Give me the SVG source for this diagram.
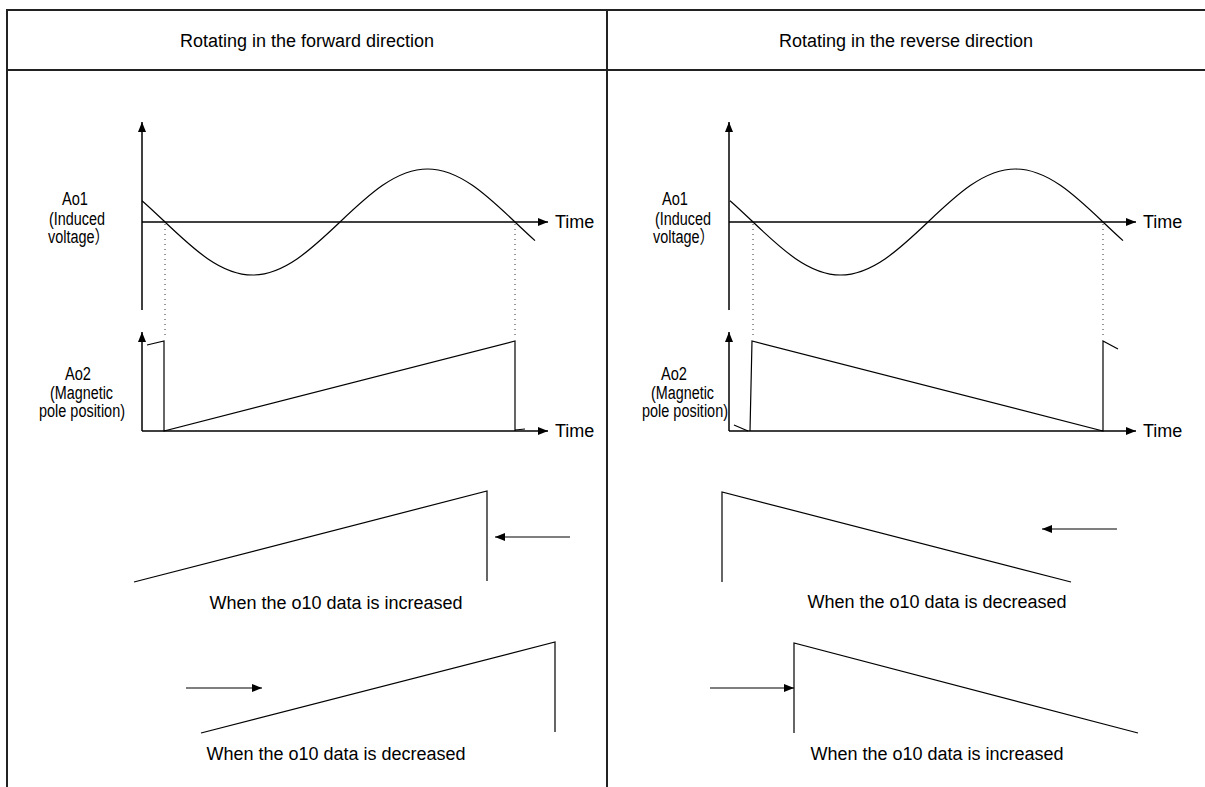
<svg xmlns="http://www.w3.org/2000/svg" width="1205" height="787" viewBox="0 0 1205 787">
<defs>
<marker id="ah" markerUnits="userSpaceOnUse" markerWidth="10" markerHeight="8" refX="10" refY="4" orient="auto">
<path d="M0,0 L10,4 L0,8 z" fill="#000"/>
</marker>
<style>
.frame{stroke:#222;stroke-width:2;fill:none}
.axis{stroke:#000;stroke-width:1.5;fill:none}
.wave{stroke:#000;stroke-width:1.2;fill:none}
.dot{stroke:#333;stroke-width:1;stroke-dasharray:1 4;fill:none}
.t{font-family:"Liberation Sans",Arial,"Noto Sans CJK JP",sans-serif;font-size:18px;fill:#000}
.m{text-anchor:middle}
</style>
</defs>
<rect width="1205" height="787" fill="#fff"/>
<g id="table">
<line class="frame" x1="7" y1="10" x2="1205" y2="10"/>
<line class="frame" x1="7" y1="70" x2="1205" y2="70"/>
<line class="frame" x1="7" y1="9" x2="7" y2="787"/>
<line class="frame" x1="607" y1="9" x2="607" y2="787"/>
<text class="t m" x="307" y="47">Rotating in the forward direction</text>
<text class="t m" x="906" y="47">Rotating in the reverse direction</text>
</g>
<g id="forward-ao1">
<text class="t" x="62" y="205" textLength="26" lengthAdjust="spacingAndGlyphs">Ao1</text>
<text class="t" x="49" y="225" textLength="56" lengthAdjust="spacingAndGlyphs">(Induced</text>
<text class="t" x="48" y="243" textLength="61" lengthAdjust="spacingAndGlyphs">voltage）</text>
<text class="t" x="555" y="228">Time</text>
</g>
<g id="forward-ao2">
<text class="t" x="65" y="380" textLength="26" lengthAdjust="spacingAndGlyphs">Ao2</text>
<text class="t" x="50" y="399" textLength="63" lengthAdjust="spacingAndGlyphs">(Magnetic</text>
<text class="t" x="39" y="417" textLength="86" lengthAdjust="spacingAndGlyphs">pole position)</text>
<text class="t" x="555" y="437">Time</text>
</g>
<g id="reverse-ao1">
<text class="t" x="662" y="205" textLength="26" lengthAdjust="spacingAndGlyphs">Ao1</text>
<text class="t" x="655" y="225" textLength="56" lengthAdjust="spacingAndGlyphs">(Induced</text>
<text class="t" x="653" y="243" textLength="61" lengthAdjust="spacingAndGlyphs">voltage）</text>
<text class="t" x="1143" y="228">Time</text>
</g>
<g id="reverse-ao2">
<text class="t" x="661" y="380" textLength="26" lengthAdjust="spacingAndGlyphs">Ao2</text>
<text class="t" x="651" y="399" textLength="63" lengthAdjust="spacingAndGlyphs">(Magnetic</text>
<text class="t" x="642" y="417" textLength="86" lengthAdjust="spacingAndGlyphs">pole position)</text>
<text class="t" x="1143" y="437">Time</text>
</g>
<g id="forward-inc">
<path class="wave" d="M134,582 L487,491 L487,581"/>
<text class="t m" x="336" y="609">When the o10 data is increased</text>
</g>
<g id="forward-dec">
<path class="wave" d="M201,733 L555,642 L555,732"/>
<text class="t m" x="336" y="760">When the o10 data is decreased</text>
</g>
<g id="reverse-dec">
<path class="wave" d="M722,582 L722,492 L1071,582"/>
<text class="t m" x="937" y="608">When the o10 data is decreased</text>
</g>
<g id="reverse-inc">
<path class="wave" d="M794,733 L794,643 L1138,733"/>
<text class="t m" x="937" y="760">When the o10 data is increased</text>
</g>
<g id="connectors">
<line class="axis" x1="142" y1="310" x2="142" y2="122" marker-end="url(#ah)"/>
<line class="axis" x1="142" y1="222" x2="548" y2="222" marker-end="url(#ah)"/>
<line class="axis" x1="142" y1="431" x2="142" y2="332" marker-end="url(#ah)"/>
<line class="axis" x1="142" y1="431" x2="548" y2="431" marker-end="url(#ah)"/>
<path class="wave" d="M142,200.7 C149.67,207.38 157.33,214.7 165,222 C193.54,249.15 220.98,275 252.5,275 C284.02,275 311.46,249.15 340,222 C368.54,194.85 395.98,169 427.5,169 C459.02,169 486.46,194.85 515,222 C521.67,228.34 528.33,234.66 535,240.6"/>
<line class="dot" x1="165" y1="224" x2="165" y2="338"/>
<line class="dot" x1="515" y1="224" x2="515" y2="338"/>
<path class="wave" d="M147,345 L164,341 L164,431 L515,341 L515,431 M515,430 L525,429"/>
<line class="axis" x1="729" y1="310" x2="729" y2="122" marker-end="url(#ah)"/>
<line class="axis" x1="729" y1="222" x2="1136" y2="222" marker-end="url(#ah)"/>
<line class="axis" x1="729" y1="431" x2="729" y2="332" marker-end="url(#ah)"/>
<line class="axis" x1="729" y1="431" x2="1136" y2="431" marker-end="url(#ah)"/>
<path class="wave" d="M730,200.7 C737.67,207.38 745.33,214.7 753,222 C781.54,249.15 808.98,275 840.5,275 C872.02,275 899.46,249.15 928,222 C956.54,194.85 983.98,169 1015.5,169 C1047.02,169 1074.46,194.85 1103,222 C1109.67,228.34 1116.33,234.66 1123,240.6"/>
<line class="dot" x1="753" y1="224" x2="753" y2="338"/>
<line class="dot" x1="1103" y1="224" x2="1103" y2="338"/>
<path class="wave" d="M734,425 L748,431 M750,431 L752,341 L1103,431 L1103,341 L1118,349"/>
<line class="wave" x1="570" y1="537" x2="495" y2="537" marker-end="url(#ah)"/>
<line class="wave" x1="186" y1="688" x2="262" y2="688" marker-end="url(#ah)"/>
<line class="wave" x1="1117" y1="529" x2="1042" y2="529" marker-end="url(#ah)"/>
<line class="wave" x1="710" y1="688" x2="794" y2="688" marker-end="url(#ah)"/>
</g>
</svg>
